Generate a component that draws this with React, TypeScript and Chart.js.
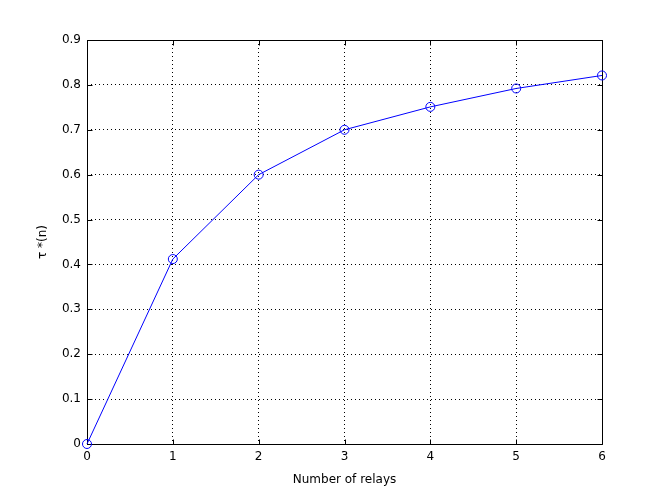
import React, { useEffect, useRef } from "react";
import { Chart, registerables } from "chart.js";

Chart.register(...registerables);

const relays = [0, 1, 2, 3, 4, 5, 6];
const tauValues = [0, 0.412, 0.6, 0.7, 0.751, 0.792, 0.821];
const xLabel = "Number of relays";
const yLabel = "τ *(n)";

const FONT = "'DejaVu Sans', Arial, sans-serif";

const boxPlugin = {
  id: "matlabBox",
  beforeDatasetsDraw(chart: any) {
    const { ctx, chartArea } = chart;
    const { left, right, top, bottom } = chartArea;
    const xs = chart.scales.x;
    const ys = chart.scales.y;
    ctx.save();
    ctx.strokeStyle = "#000";
    ctx.lineWidth = 1;
    ctx.setLineDash([]);
    ctx.beginPath();
    const L = Math.round(left) + 0.5;
    const R = Math.round(right) + 0.5;
    const T = Math.round(top) + 0.5;
    const B = Math.round(bottom) + 0.5;
    ctx.rect(L, T, R - L, B - T);
    const tl = 5;
    ys.ticks.forEach((t: any) => {
      const y = Math.round(ys.getPixelForValue(t.value)) + 0.5;
      ctx.moveTo(L, y);
      ctx.lineTo(L + tl, y);
      ctx.moveTo(R, y);
      ctx.lineTo(R - tl, y);
    });
    xs.ticks.forEach((t: any) => {
      const x = Math.round(xs.getPixelForValue(t.value)) + 0.5;
      ctx.moveTo(x, B);
      ctx.lineTo(x, B - tl);
      ctx.moveTo(x, T);
      ctx.lineTo(x, T + tl);
    });
    ctx.stroke();
    ctx.restore();
  },
};

export default function App() {
  const ref = useRef<HTMLCanvasElement | null>(null);
  useEffect(() => {
    if (!ref.current) return;
    const chart = new Chart(ref.current, {
      type: "line",
      data: {
        datasets: [
          {
            data: relays.map((r, i) => ({ x: r, y: tauValues[i] })),
            borderColor: "#0000ff",
            backgroundColor: "rgba(0,0,0,0)",
            borderWidth: 1,
            pointStyle: "circle",
            pointRadius: 4.5,
            pointBorderWidth: 1,
            pointBackgroundColor: "rgba(0,0,0,0)",
            pointBorderColor: "#0000ff",
            tension: 0,
            clip: false,
          },
        ],
      },
      options: {
        responsive: false,
        animation: false,
        events: [],
        layout: { padding: { left: 0, right: 62, top: 40, bottom: 0 } },
        plugins: { legend: { display: false }, tooltip: { enabled: false } },
        scales: {
          x: {
            type: "linear",
            min: 0,
            max: 6,
            afterFit(scale: any) {
              scale.height = 55;
            },
            ticks: {
              stepSize: 1,
              padding: 6,
              color: "#000",
              font: { family: FONT, size: 12 },
              maxRotation: 0,
            },
            grid: { color: "#000", lineWidth: 1, drawTicks: false },
            border: { display: false, dash: [1, 3] },
            title: {
              display: true,
              text: xLabel,
              color: "#000",
              font: { family: FONT, size: 12 },
              padding: { top: 0, bottom: 12 },
            },
          },
          y: {
            type: "linear",
            min: 0,
            max: 0.9,
            afterFit(scale: any) {
              scale.width = 87;
            },
            ticks: {
              stepSize: 0.1,
              padding: 6,
              color: "#000",
              font: { family: FONT, size: 12 },
            },
            grid: { color: "#000", lineWidth: 1, drawTicks: false },
            border: { display: false, dash: [1, 3] },
            title: {
              display: true,
              text: yLabel,
              color: "#000",
              font: { family: FONT, size: 12 },
              padding: { top: 36, bottom: 0 },
            },
          },
        },
      },
      plugins: [boxPlugin],
    });
    return () => chart.destroy();
  }, []);
  return (
    <div style={{ position: "fixed", left: 0, top: 0, width: 664, height: 499, background: "#fff" }}>
      <canvas ref={ref} width={664} height={499} style={{ display: "block" }} />
    </div>
  );
}
